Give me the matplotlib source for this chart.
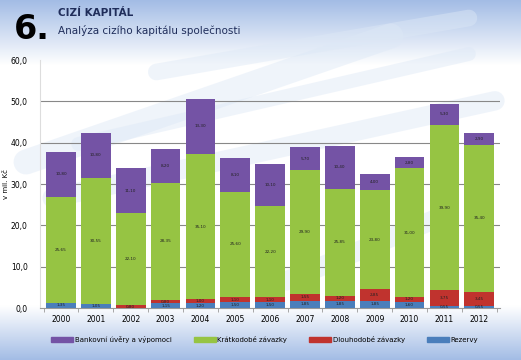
import numpy as np
import matplotlib.pyplot as plt
from matplotlib.patches import Patch

# data (mil. Kč)
roky = ['2000', '2001', '2002', '2003', '2004', '2005', '2006',
        '2007', '2008', '2009', '2010', '2011', '2012']
rezervy = [1.35, 1.05, 0, 1.15, 1.20, 1.50, 1.50, 1.85, 1.85, 1.85, 1.60, 0.55, 0.55]
dlouhodobe = [0, 0, 0.80, 0.80, 1.00, 1.10, 1.10, 1.55, 1.20, 2.85, 1.20, 3.75, 3.45]
kratkodobe = [25.65, 30.55, 22.10, 28.35, 35.10, 25.60, 22.20, 29.90, 25.85, 23.80, 31.00, 39.90, 35.40]
bankovni = [10.80, 10.80, 11.10, 8.20, 13.30, 8.10, 10.10, 5.70, 10.40, 4.00, 2.80, 5.30, 2.90]

serie = [('Rezervy', rezervy, '#4a7ebb'),
         ('Dlouhodobé závazky', dlouhodobe, '#c0332e'),
         ('Krátkodobé závazky', kratkodobe, '#96c443'),
         ('Bankovní úvěry a výpomoci', bankovni, '#7453a5')]

fig = plt.figure(figsize=(5.21, 3.6), dpi=100)

# pozadí - modrý přechod nahoře a dole
bg = fig.add_axes([0, 0, 1, 1], zorder=-10)
yy = np.linspace(0, 1, 400)
top = np.clip((yy - 0.82) / 0.18, 0, 1)
bot = np.clip((0.15 - yy) / 0.15, 0, 1)
t = np.maximum(top, bot)[:, None]
c0 = np.array([1.0, 1.0, 1.0])
c1 = np.array([0.64, 0.74, 0.90])
img = c0 + (c1 - c0) * t[..., None]
img = np.repeat(img, 2, axis=1)
bg.imshow(img, origin='lower', extent=[0, 1, 0, 1], aspect='auto')
# světlé šikmé pruhy
for x0, y0, x1, y1, w in [(0.05, 0.55, 0.75, 0.90, 18), (0.10, 0.45, 0.95, 0.72, 14),
                          (0.15, 0.60, 0.90, 0.85, 10), (0.30, 0.80, 0.90, 0.95, 12),
                          (0.55, 0.22, 0.85, 0.40, 14)]:
    bg.plot([x0, x1], [y0, y1], color='#dde8f6', lw=w, alpha=0.45,
            solid_capstyle='round')
bg.set_xlim(0, 1)
bg.set_ylim(0, 1)
bg.axis('off')

# nadpis
fig.text(0.027, 0.893, '6.', fontsize=24, fontweight='bold', color='black')
fig.text(0.111, 0.955, 'CIZÍ KAPITÁL', fontsize=7.5, fontweight='bold', color='#1f2d5a')
fig.text(0.111, 0.905, 'Analýza cizího kapitálu společnosti', fontsize=7.5, color='#1f2d5a')

ax = fig.add_axes([0.077, 0.144, 0.883, 0.689])
ax.patch.set_alpha(0)
x = np.arange(len(roky))
spodek = np.zeros(len(roky))
for nazev, hodnoty, barva in serie:
    h = np.array(hodnoty)
    ax.bar(x, h, bottom=spodek, width=0.85, color=barva, zorder=3)
    for xi, b, v in zip(x, spodek, h):
        if v > 0:
            ax.text(xi, b + v / 2, f'{v:.2f}'.replace('.', ','), ha='center',
                    va='center', fontsize=3, color='#222222', zorder=4)
    spodek += h

ax.set_xlim(-0.6, len(roky) - 0.4)
ax.set_ylim(0, 60)
ax.set_yticks(np.arange(0, 61, 10))
ax.set_yticklabels([f'{v:.1f}'.replace('.', ',') for v in np.arange(0, 61, 10)])
for g in range(10, 60, 10):
    ax.axhline(g, color='#888888', lw=0.8, zorder=0)
ax.set_xticks(x)
ax.set_xticklabels(roky)
ax.set_xticks(np.arange(-0.5, len(roky), 1), minor=True)
ax.tick_params(axis='x', which='major', length=0, labelsize=5.5, pad=5)
ax.tick_params(axis='x', which='minor', length=3, color='#999999')
ax.tick_params(axis='y', length=0, labelsize=5.5, pad=9)
ax.set_ylabel('v mil. Kč', fontsize=5, labelpad=1)
for s in ['top', 'right']:
    ax.spines[s].set_visible(False)
ax.spines['left'].set_color('#dddddd')
ax.spines['bottom'].set_color('#999999')

poradi = [3, 2, 1, 0]
handles = [Patch(color=serie[i][2], label=serie[i][0]) for i in poradi]
fig.legend(handles=handles, loc='lower left', bbox_to_anchor=(0.093, 0.04, 0.83, 0.05),
           mode='expand', ncol=4, frameon=False, fontsize=5, handlelength=3.2,
           handleheight=0.9, handletextpad=0.2, borderaxespad=0)

fig.savefig('out.png', dpi=100)
